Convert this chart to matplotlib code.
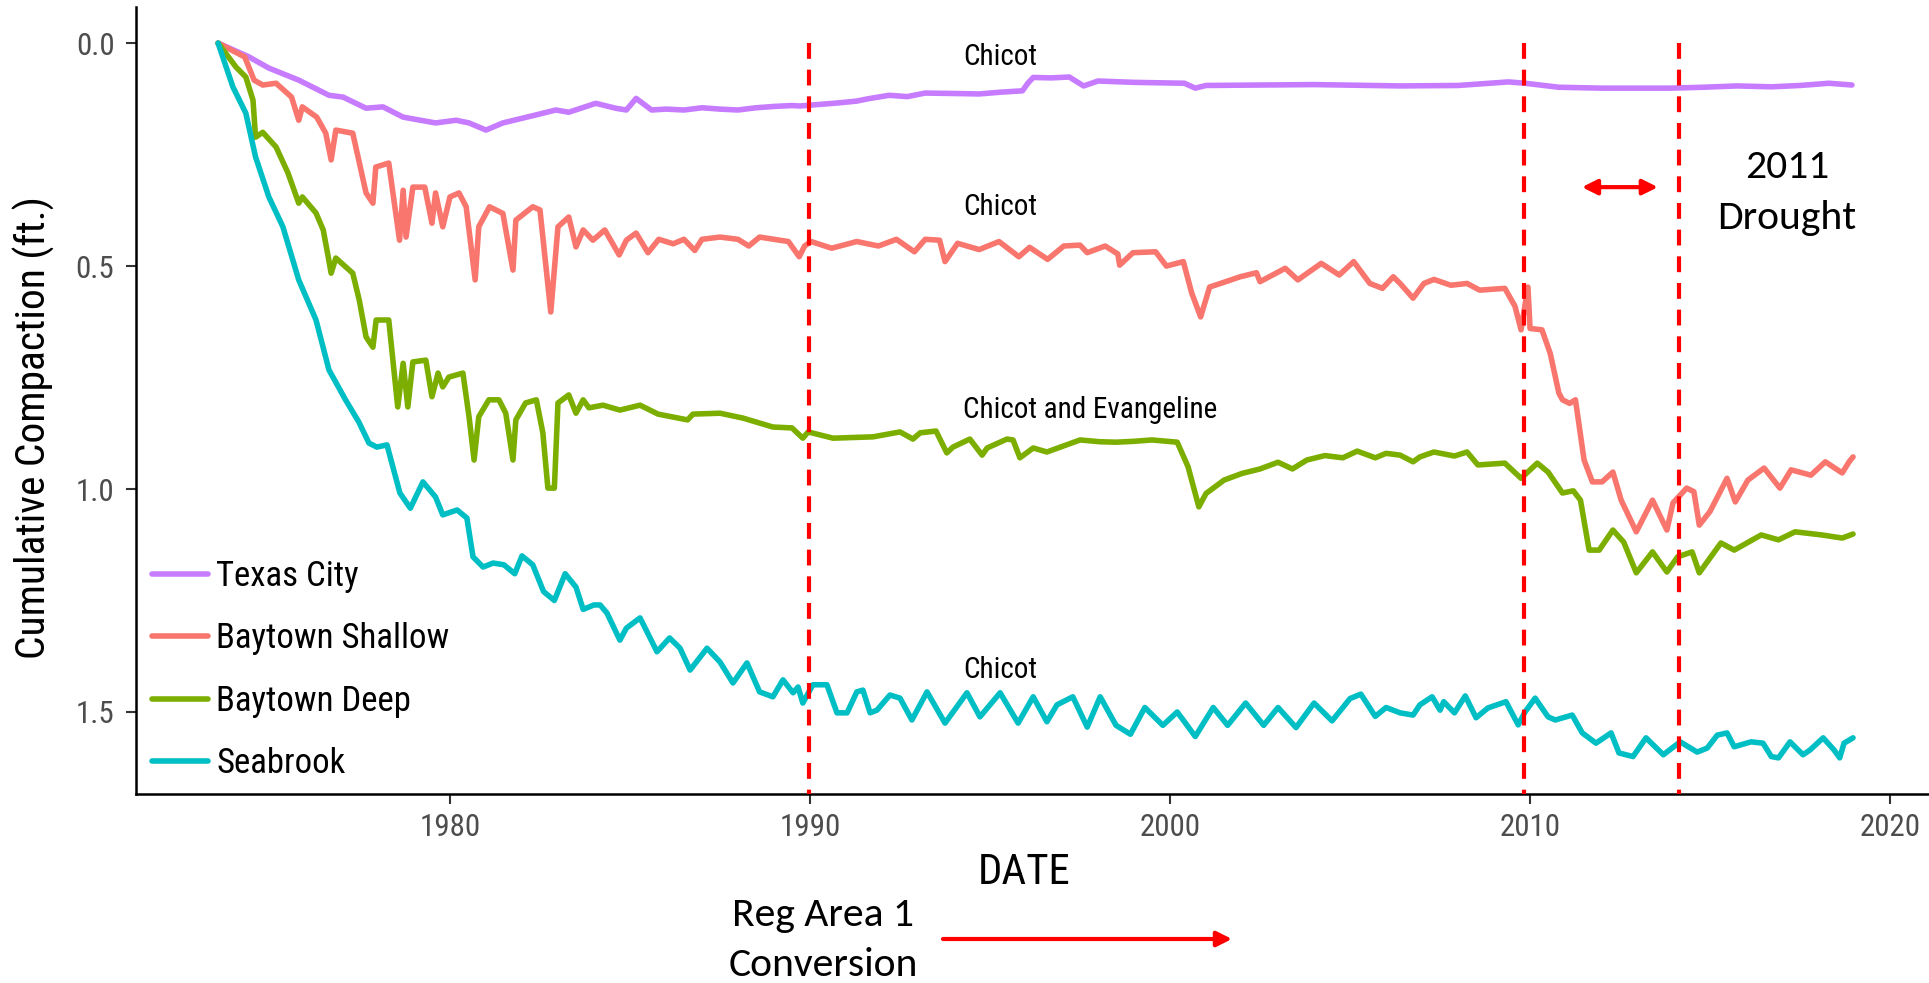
import matplotlib
matplotlib.use("Agg")
import matplotlib.pyplot as plt
from matplotlib import font_manager as fm
from matplotlib.textpath import TextPath

# ---------------- data ----------------
series_names = ["Texas City", "Baytown Shallow", "Baytown Deep", "Seabrook"]
series_colors = ["#C77CFF", "#F8766D", "#7CAE00", "#00BFC4"]

tc_year = [1973.56, 1974.42, 1974.97, 1975.8, 1976.64, 1977.03, 1977.67, 1978.14, 1978.7, 1979.6,
           1980.17, 1980.53, 1981.0, 1981.47, 1982.39, 1982.94, 1983.3, 1984.05, 1984.6, 1984.9,
           1985.17, 1985.6, 1986.0, 1986.5, 1987.0, 1987.5, 1988.0, 1988.5, 1989.0, 1989.5,
           1989.72, 1990.03, 1990.8, 1991.3, 1991.6, 1992.2, 1992.7, 1993.2, 1994.0, 1994.7,
           1995.3, 1995.9, 1996.05, 1996.2, 1996.7, 1997.2, 1997.6, 1998.0, 1999.0, 2000.4,
           2000.7, 2001.0, 2002.5, 2004.0, 2006.4, 2008.0, 2009.4, 2009.86, 2010.8, 2012.0,
           2013.9, 2014.8, 2015.75, 2016.7, 2017.5, 2018.3, 2018.94]
tc_val = [0.0, 0.031, 0.056, 0.083, 0.117, 0.121, 0.146, 0.143, 0.166, 0.179,
          0.173, 0.179, 0.195, 0.179, 0.161, 0.150, 0.155, 0.135, 0.146, 0.150,
          0.124, 0.150, 0.148, 0.150, 0.145, 0.148, 0.150, 0.145, 0.142, 0.140,
          0.141, 0.139, 0.134, 0.130, 0.125, 0.117, 0.120, 0.112, 0.113, 0.114,
          0.110, 0.107, 0.090, 0.077, 0.078, 0.076, 0.096, 0.085, 0.088, 0.090,
          0.101, 0.095, 0.094, 0.093, 0.096, 0.095, 0.087, 0.090, 0.099, 0.101,
          0.101, 0.099, 0.096, 0.098, 0.095, 0.090, 0.094]

bs_year = [1973.56, 1974.3, 1974.56, 1974.8, 1975.17, 1975.6, 1975.8, 1975.9, 1976.3, 1976.55,
           1976.7, 1976.83, 1977.3, 1977.67, 1977.86, 1977.94, 1978.3, 1978.6, 1978.7, 1978.78,
           1978.97, 1979.3, 1979.5, 1979.6, 1979.8, 1980.0, 1980.25, 1980.45, 1980.7, 1980.8,
           1981.1, 1981.47, 1981.75, 1981.83, 1982.3, 1982.5, 1982.8, 1983.0, 1983.3, 1983.5,
           1983.7, 1983.97, 1984.3, 1984.7, 1984.9, 1985.17, 1985.5, 1985.8, 1986.2, 1986.5,
           1986.8, 1987.0, 1987.5, 1988.0, 1988.3, 1988.6, 1989.0, 1989.4, 1989.7, 1989.85,
           1990.03, 1990.6, 1991.3, 1991.9, 1992.4, 1992.9, 1993.2, 1993.6, 1993.75, 1994.1,
           1994.7, 1995.25, 1995.8, 1996.1, 1996.6, 1997.05, 1997.5, 1997.7, 1998.2, 1998.55,
           1998.6, 1998.97, 1999.6, 1999.9, 2000.37, 2000.6, 2000.85, 2001.1, 2001.4, 2001.95,
           2002.4, 2002.5, 2003.2, 2003.55, 2004.2, 2004.7, 2005.1, 2005.55, 2005.9, 2006.2,
           2006.39, 2006.75, 2007.05, 2007.33, 2007.8, 2008.25, 2008.6, 2009.3, 2009.58, 2009.75,
           2009.94, 2010.0, 2010.33, 2010.56, 2010.8, 2010.9, 2011.1, 2011.26, 2011.5, 2011.73,
           2012.0, 2012.3, 2012.53, 2012.95, 2013.4, 2013.8, 2013.97, 2014.35, 2014.55, 2014.7,
           2015.0, 2015.47, 2015.7, 2016.05, 2016.5, 2016.94, 2017.25, 2017.8, 2018.2, 2018.67,
           2018.86, 2018.97]
bs_val = [0.0, 0.031, 0.083, 0.094, 0.090, 0.121, 0.173, 0.143, 0.166, 0.202,
          0.262, 0.195, 0.202, 0.336, 0.359, 0.278, 0.269, 0.442, 0.330, 0.435,
          0.323, 0.323, 0.404, 0.336, 0.412, 0.345, 0.336, 0.367, 0.531, 0.412,
          0.367, 0.382, 0.509, 0.397, 0.367, 0.374, 0.603, 0.412, 0.390, 0.457,
          0.419, 0.442, 0.419, 0.475, 0.442, 0.426, 0.470, 0.440, 0.450, 0.440,
          0.465, 0.440, 0.435, 0.440, 0.455, 0.435, 0.440, 0.445, 0.479, 0.455,
          0.445, 0.460, 0.445, 0.455, 0.440, 0.468, 0.440, 0.442, 0.490, 0.449,
          0.463, 0.445, 0.479, 0.458, 0.485, 0.455, 0.453, 0.470, 0.455, 0.473,
          0.498, 0.470, 0.468, 0.500, 0.490, 0.560, 0.614, 0.547, 0.539, 0.524,
          0.515, 0.535, 0.505, 0.531, 0.494, 0.520, 0.490, 0.539, 0.550, 0.524,
          0.539, 0.572, 0.539, 0.530, 0.543, 0.539, 0.554, 0.550, 0.590, 0.643,
          0.547, 0.640, 0.643, 0.696, 0.785, 0.800, 0.808, 0.800, 0.935, 0.984,
          0.984, 0.962, 1.025, 1.096, 1.025, 1.092, 1.031, 0.998, 1.006, 1.081,
          1.050, 0.976, 1.029, 0.980, 0.953, 0.998, 0.957, 0.969, 0.939, 0.964,
          0.939, 0.928]

bd_year = [1973.56, 1974.06, 1974.33, 1974.53, 1974.6, 1974.8, 1975.17, 1975.5, 1975.8, 1975.9,
           1976.28, 1976.48, 1976.6, 1976.7, 1976.83, 1977.3, 1977.48, 1977.67, 1977.86, 1977.95,
           1978.3, 1978.55, 1978.7, 1978.83, 1978.97, 1979.33, 1979.5, 1979.67, 1979.8, 1979.97,
           1980.36, 1980.53, 1980.67, 1980.8, 1981.08, 1981.36, 1981.55, 1981.75, 1981.83, 1982.1,
           1982.4, 1982.58, 1982.72, 1982.9, 1983.0, 1983.3, 1983.5, 1983.7, 1983.86, 1984.25,
           1984.72, 1985.28, 1985.78, 1986.6, 1986.75, 1987.5, 1988.14, 1988.97, 1989.5, 1989.8,
           1989.95, 1990.64, 1991.75, 1992.5, 1992.86, 1993.06, 1993.5, 1993.8, 1993.97, 1994.44,
           1994.78, 1994.92, 1995.47, 1995.64, 1995.83, 1996.2, 1996.58, 1997.5, 1998.06, 1998.5,
           1999.0, 1999.5, 2000.2, 2000.5, 2000.8, 2001.0, 2001.5, 2002.0, 2002.5, 2003.0,
           2003.4, 2003.8, 2004.3, 2004.8, 2005.2, 2005.7, 2006.0, 2006.39, 2006.75, 2006.94,
           2007.33, 2007.9, 2008.25, 2008.55, 2009.3, 2009.75, 2010.2, 2010.5, 2010.9, 2011.2,
           2011.4, 2011.64, 2011.92, 2012.3, 2012.6, 2012.95, 2013.4, 2013.8, 2014.1, 2014.5,
           2014.7, 2015.3, 2015.67, 2016.42, 2016.9, 2017.36, 2018.1, 2018.67, 2018.97]
bd_val = [0.0, 0.054, 0.076, 0.128, 0.211, 0.200, 0.233, 0.291, 0.359, 0.345,
          0.381, 0.419, 0.471, 0.516, 0.482, 0.516, 0.576, 0.659, 0.682, 0.621,
          0.621, 0.816, 0.718, 0.816, 0.715, 0.711, 0.793, 0.740, 0.771, 0.749,
          0.740, 0.838, 0.935, 0.838, 0.800, 0.800, 0.830, 0.935, 0.845, 0.807,
          0.800, 0.874, 0.998, 0.998, 0.807, 0.789, 0.830, 0.800, 0.818, 0.812,
          0.823, 0.812, 0.832, 0.845, 0.832, 0.830, 0.841, 0.861, 0.863, 0.886,
          0.872, 0.886, 0.883, 0.872, 0.888, 0.874, 0.870, 0.919, 0.906, 0.888,
          0.924, 0.908, 0.888, 0.890, 0.930, 0.908, 0.917, 0.890, 0.894, 0.895,
          0.893, 0.890, 0.895, 0.950, 1.040, 1.010, 0.980, 0.965, 0.955, 0.940,
          0.955, 0.935, 0.925, 0.930, 0.915, 0.930, 0.920, 0.924, 0.939, 0.928,
          0.917, 0.926, 0.917, 0.946, 0.942, 0.976, 0.942, 0.962, 1.009, 1.004,
          1.025, 1.137, 1.137, 1.092, 1.119, 1.188, 1.141, 1.186, 1.152, 1.141,
          1.188, 1.121, 1.137, 1.103, 1.114, 1.096, 1.103, 1.110, 1.101]

sb_year = [1973.56, 1973.97, 1974.33, 1974.6, 1974.97, 1975.36, 1975.8, 1976.28, 1976.64, 1977.1,
           1977.47, 1977.75, 1977.97, 1978.25, 1978.61, 1978.9, 1979.25, 1979.6, 1979.8, 1980.2,
           1980.47, 1980.64, 1980.92, 1981.2, 1981.5, 1981.8, 1982.0, 1982.3, 1982.6, 1982.9,
           1983.2, 1983.5, 1983.7, 1984.0, 1984.17, 1984.36, 1984.72, 1984.9, 1985.28, 1985.75,
           1986.1, 1986.39, 1986.67, 1987.14, 1987.5, 1987.86, 1988.25, 1988.6, 1988.97, 1989.25,
           1989.53, 1989.67, 1989.8, 1990.08, 1990.47, 1990.75, 1991.03, 1991.3, 1991.47, 1991.67,
           1991.86, 1992.22, 1992.5, 1992.83, 1993.25, 1993.75, 1994.36, 1994.72, 1995.28, 1995.78,
           1996.2, 1996.58, 1996.86, 1997.3, 1997.7, 1998.06, 1998.5, 1998.9, 1999.3, 1999.8,
           2000.2, 2000.7, 2001.2, 2001.6, 2002.1, 2002.6, 2003.0, 2003.5, 2004.0, 2004.5,
           2005.0, 2005.3, 2005.7, 2006.0, 2006.39, 2006.75, 2006.94, 2007.28, 2007.5, 2007.6,
           2007.9, 2008.2, 2008.5, 2008.83, 2009.33, 2009.67, 2009.86, 2010.14, 2010.5, 2010.7,
           2011.17, 2011.45, 2011.83, 2012.25, 2012.47, 2012.86, 2013.22, 2013.7, 2014.17, 2014.64,
           2014.92, 2015.2, 2015.47, 2015.67, 2016.14, 2016.47, 2016.7, 2016.9, 2017.22, 2017.58,
           2017.78, 2018.14, 2018.44, 2018.6, 2018.72, 2018.97]
sb_val = [0.0, 0.098, 0.157, 0.255, 0.345, 0.412, 0.531, 0.621, 0.733, 0.800,
          0.850, 0.897, 0.906, 0.901, 1.009, 1.043, 0.984, 1.018, 1.058, 1.047,
          1.065, 1.152, 1.175, 1.166, 1.170, 1.190, 1.150, 1.170, 1.230, 1.250,
          1.190, 1.220, 1.270, 1.260, 1.260, 1.278, 1.339, 1.312, 1.289, 1.365,
          1.334, 1.357, 1.406, 1.357, 1.388, 1.435, 1.390, 1.455, 1.466, 1.428,
          1.457, 1.444, 1.480, 1.439, 1.439, 1.502, 1.502, 1.455, 1.451, 1.502,
          1.496, 1.462, 1.469, 1.518, 1.455, 1.525, 1.457, 1.511, 1.457, 1.525,
          1.466, 1.522, 1.484, 1.466, 1.534, 1.466, 1.530, 1.550, 1.490, 1.530,
          1.500, 1.555, 1.490, 1.530, 1.480, 1.530, 1.490, 1.535, 1.480, 1.520,
          1.470, 1.460, 1.510, 1.490, 1.502, 1.507, 1.484, 1.466, 1.496, 1.477,
          1.502, 1.464, 1.513, 1.491, 1.477, 1.529, 1.500, 1.469, 1.511, 1.518,
          1.507, 1.547, 1.570, 1.547, 1.592, 1.600, 1.558, 1.596, 1.567, 1.590,
          1.581, 1.552, 1.547, 1.578, 1.567, 1.570, 1.600, 1.603, 1.567, 1.596,
          1.585, 1.558, 1.585, 1.603, 1.570, 1.558]

series_years = [tc_year, bs_year, bd_year, sb_year]
series_values = [tc_val, bs_val, bd_val, sb_val]

x_ticks = [1980, 1990, 2000, 2010, 2020]
y_ticks = [0.0, 0.5, 1.0, 1.5]
event_years = [1989.97, 2009.83, 2014.14]

aquifer_labels = ["Chicot", "Chicot", "Chicot and Evangeline", "Chicot"]
aquifer_label_y = [0.031, 0.368, 0.823, 1.406]
aquifer_label_x = 1994.25


# ---------------- fonts ----------------
def _is_regular(f):
    return f.style == "normal" and f.weight in (400, "normal", "regular", "book")


def pick_narrow():
    pref = ["Liberation Sans Narrow", "Roboto Condensed", "DejaVu Sans Condensed",
            "Open Sans Condensed", "Noto Sans Condensed", "Arial Narrow"]
    for p in pref:
        for f in fm.fontManager.ttflist:
            if f.name == p and _is_regular(f):
                return fm.FontProperties(fname=f.fname)
    for f in fm.fontManager.ttflist:
        if f.stretch in ("condensed", "semi-condensed", "extra-condensed") and _is_regular(f):
            if "Serif" not in f.name and "Mono" not in f.name:
                return fm.FontProperties(fname=f.fname)
    return fm.FontProperties(family="Roboto")


NARROW = pick_narrow()
names = {f.name for f in fm.fontManager.ttflist}
CALIB = fm.FontProperties(family="Carlito" if "Carlito" in names else "Lato")


def fit(fp, s, target_px, max_size):
    """font properties sized so that string s is about target_px wide (at dpi 100)."""
    w = TextPath((0, 0), s, size=max_size, prop=fp).get_extents().width * 100 / 72
    size = max_size if w <= 0 else min(max_size, max_size * target_px / w)
    out = fp.copy()
    out.set_size(size)
    return out


fp_xtick = fit(NARROW, "1980", 57, 24)
fp_ytick = fp_xtick
fp_xlabel = fit(NARROW, "DATE", 88, 31)
fp_ylabel = fit(NARROW, "Cumulative Compaction (ft.)", 457, 31)
fp_legend = fit(NARROW, "Baytown Shallow", 237, 25)
fp_note = fit(NARROW, "Chicot and Evangeline", 251, 22)
fp_calib = fit(CALIB, "Reg Area 1", 181, 30)

W, H = 1929, 983
fig = plt.figure(figsize=(W / 100, H / 100), dpi=100)
ax = fig.add_axes([136 / W, 1 - 794 / H, 1 - 136 / W, (794 - 7) / H])

for yrs, vals, name, col in zip(series_years, series_values, series_names, series_colors):
    ax.plot(yrs, vals, color=col, lw=4, label=name, solid_joinstyle="round",
            solid_capstyle="round")

ax.set_xlim(1971.28, 2021.08)
ax.set_ylim(1.684, -0.081)

ax.vlines(event_years, 0.0, 1.684, colors="#FF0000", lw=3,
          linestyles=[(0, (3.8, 2.6))], zorder=5, clip_on=False)

for s, yv in zip(aquifer_labels, aquifer_label_y):
    ax.text(aquifer_label_x, yv, s, fontproperties=fp_note, color="black",
            ha="left", va="center")

# Drought annotation
ax.annotate("", xy=(2011.44, 0.323), xytext=(2013.55, 0.323),
            arrowprops=dict(arrowstyle="<|-|>,head_length=0.9,head_width=0.45",
                            color="#FF0000", lw=3, shrinkA=0, shrinkB=0))
ax.text(2017.14, 0.278, "2011", fontproperties=fp_calib, ha="center", va="center")
ax.text(2017.14, 0.392, "Drought", fontproperties=fp_calib, ha="center", va="center")

# Reg Area text and arrow (below axes)
fig.text(823 / W, 1 - 915 / H, "Reg Area 1", fontproperties=fp_calib,
         ha="center", va="center")
fig.text(823 / W, 1 - 965 / H, "Conversion", fontproperties=fp_calib,
         ha="center", va="center")
ax.annotate("", xy=(1232 / W, 1 - 939 / H), xytext=(943 / W, 1 - 939 / H),
            xycoords="figure fraction", textcoords="figure fraction",
            arrowprops=dict(arrowstyle="-|>,head_length=0.9,head_width=0.45",
                            color="#FF0000", lw=3, shrinkA=0, shrinkB=0))

# axes styling
for side in ["top", "right"]:
    ax.spines[side].set_visible(False)
for side in ["left", "bottom"]:
    ax.spines[side].set_linewidth(1.8)
    ax.spines[side].set_color("black")
ax.set_xticks(x_ticks)
ax.set_yticks(y_ticks)
ax.set_yticklabels([f"{v:.1f}" for v in y_ticks])
ax.tick_params(axis="both", direction="out", length=7.5, width=1.5, colors="#333333",
               labelcolor="#4D4D4D")
ax.tick_params(axis="x", pad=6)
ax.tick_params(axis="y", pad=8)
for lbl in ax.get_xticklabels():
    lbl.set_fontproperties(fp_xtick)
for lbl in ax.get_yticklabels():
    lbl.set_fontproperties(fp_ytick)

fig.text(1024 / W, 1 - 873 / H, "DATE", fontproperties=fp_xlabel, ha="center", va="center")
fig.text(34 / W, 1 - 428 / H, "Cumulative Compaction (ft.)", fontproperties=fp_ylabel,
         ha="center", va="center", rotation=90)

ax.legend(loc="center left", bbox_to_anchor=(152 / W, 1 - 670 / H),
          bbox_transform=fig.transFigure, frameon=False, prop=fp_legend,
          handlelength=1.6, handletextpad=0.25, labelspacing=0.85,
          borderpad=0, borderaxespad=0)

fig.savefig("out.png", dpi=100, facecolor="white")
